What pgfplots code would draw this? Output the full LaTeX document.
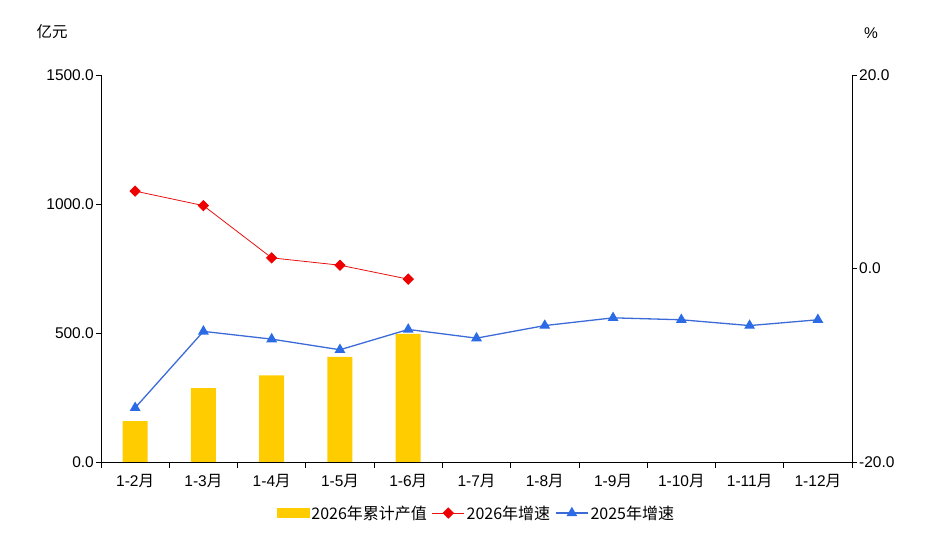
\documentclass[border=0pt]{standalone}
\usepackage{pgfplots}
\pgfplotsset{compat=1.18}
\usepackage{fontspec}
\setmainfont{Liberation Sans}
\newfontfamily\cjk{Noto Sans CJK SC}

\definecolor{baryel}{HTML}{FFCC00}
\definecolor{linered}{HTML}{E81010}
\definecolor{mkred}{HTML}{EE0000}
\definecolor{lineblue}{HTML}{3C6BD8}
\definecolor{mkblue}{HTML}{2B6CE6}

\pgfplotsset{
  common/.style={
    at={(101pt,78pt)}, anchor=south west,
    width=751pt, height=387pt, scale only axis,
    xmin=-0.5, xmax=10.5,
    tick align=outside,
    major tick length=5pt,
    tick style={black, line width=0.8pt},
    axis line style={black, line width=0.8pt},
    ticklabel style={font=\fontsize{15.5}{17}\selectfont},
    y tick label style={inner sep=2pt},
    /pgf/number format/assume math mode=true,
    /pgf/number format/fixed,
    /pgf/number format/fixed zerofill,
    /pgf/number format/precision=1,
    /pgf/number format/1000 sep={},
    clip=false,
  },
  markline/.style={
    legend image code/.code={\draw[mark repeat=2,mark phase=2,##1] plot coordinates {(0pt,0pt) (16pt,0pt) (32pt,0pt)};}
  },
  barlegend/.style={
    legend image code/.code={\fill[baryel] (0pt,-4.5pt) rectangle (32pt,4.5pt);}
  },
}

\begin{document}
\begin{tikzpicture}[x=1pt,y=1pt]
\path (0,0) rectangle (944,540);

\begin{axis}[common,
  ymin=0, ymax=1500,
  axis x line*=bottom, axis y line*=left,
  ytick={0,500,1000,1500},
  xtick={0,...,10},
  xticklabels={1-2{\cjk 月},1-3{\cjk 月},1-4{\cjk 月},1-5{\cjk 月},1-6{\cjk 月},1-7{\cjk 月},1-8{\cjk 月},1-9{\cjk 月},1-10{\cjk 月},1-11{\cjk 月},1-12{\cjk 月}},
  major x tick style={draw=none},
  minor xtick={-0.5,0.5,...,10.5},
  minor tick length=6pt,
  minor x tick style={black, line width=0.8pt},
  x tick label style={yshift=-4pt},
]
\addplot[ybar, bar width=25pt, fill=baryel, draw=none] coordinates {
  (0,158) (1,286) (2,336) (3,407) (4,497)
};
\end{axis}

\begin{axis}[common,
  ymin=-20, ymax=20,
  axis x line=none, axis y line*=right,
  ytick={-20,0,20},
  legend style={at={(0.5,-0.132)}, anchor=center, draw=none, fill=none,
    font=\cjk\fontsize{16}{18}\selectfont, legend columns=3,
    /tikz/every even column/.append style={column sep=3pt}},
  legend cell align=left,
]
\addlegendimage{barlegend}
\addlegendentry{2026年累计产值}
\addplot[linered, line width=0.8pt, mark=square*, mark size=3.6pt,
  mark options={fill=mkred, draw=mkred, rotate=45}, markline]
  coordinates {(0,8.0) (1,6.5) (2,1.1) (3,0.34) (4,-1.1)};
\addlegendentry{2026年增速}
\addplot[lineblue, line width=1.3pt, mark=triangle*, mark size=5pt,
  mark options={fill=mkblue, draw=mkblue}, markline]
  coordinates {(0,-14.4) (1,-6.5) (2,-7.3) (3,-8.4) (4,-6.3) (5,-7.2) (6,-5.9) (7,-5.1) (8,-5.3) (9,-5.9) (10,-5.3)};
\addlegendentry{2025年增速}
\end{axis}

\node[font=\cjk\fontsize{15.5}{17}\selectfont] at (52,508) {亿元};
\node[font=\fontsize{15.5}{17}\selectfont] at (871,507) {\%};
\end{tikzpicture}
\end{document}
